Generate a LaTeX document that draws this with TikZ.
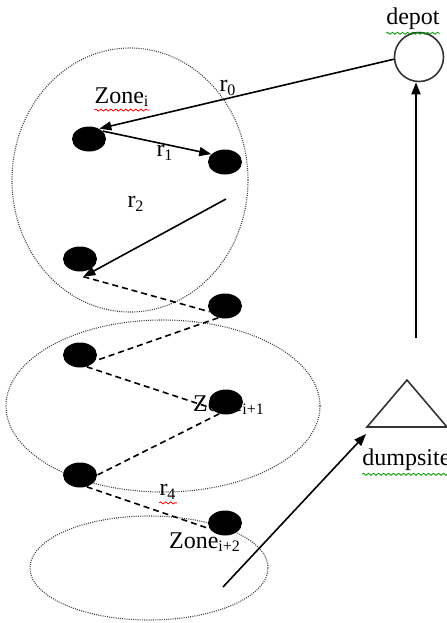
\documentclass[tikz,border=0pt]{standalone}
\usepackage{fontspec}
\setmainfont{Liberation Serif}
\usetikzlibrary{arrows.meta}
\usetikzlibrary{shapes.geometric}
\usetikzlibrary{decorations.pathmorphing}

\begin{document}
\begin{tikzpicture}[x=0.5pt,y=-0.5pt,
    bin/.style={shape=ellipse,fill=black,inner sep=0pt,
      minimum width=17pt,minimum height=12.5pt},
    zoneline/.style={draw=black!75,dash pattern=on 0.5pt off 0.6pt,line width=0.55pt},
    route/.style={-{Triangle[length=6pt,width=4.5pt]},line width=0.8pt},
    hop/.style={dash pattern=on 3pt off 2pt,line width=0.8pt},
    txt/.style={inner sep=0pt,font=\fontsize{12}{14}\selectfont},
    squiggle/.style={decorate,decoration={snake,amplitude=0.5pt,segment length=2.5pt},line width=0.4pt}]
  \useasboundingbox (0,0) rectangle (446,623);
  %\draw[help lines] (0,0) grid[step=50] (446,623); % Only for Development

  % zones
  \draw[zoneline] (130,180) ellipse [x radius=59pt, y radius=66pt];
  \draw[zoneline] (163,406) ellipse [x radius=78.5pt, y radius=43pt];
  \draw[zoneline] (149,568) ellipse [x radius=59.5pt, y radius=26pt];

  % depot and dumpsite
  \node[shape=circle,
    draw=black!80,
    line width=0.8pt,
    minimum size=24.5pt] (depot) at (419,57) {};
  \node[txt] (depottxt) at (413,19) {depot};
  \draw[draw=black!80,line width=0.8pt]
    (367,427) -- (407,380) -- (447,427) -- cycle;
  \coordinate (dumpsite) at (366,434);
  \node[txt,anchor=west] (dumptxt) at (362,460) {dumpsite};

  % labels
  \node[txt] (zonei) at (122,97) {Zone\textsubscript{i}};
  \node[txt] (zoneii) at (229,405) {Zone\textsubscript{i+1}};
  \node[txt] (zoneiii) at (205,542) {Zone\textsubscript{i+2}};
  \node[txt] (rzero) at (228,88) {r\textsubscript{0}};
  \node[txt] (rone) at (165,153) {r\textsubscript{1}};
  \node[txt] (rtwo) at (136,204) {r\textsubscript{2}};
  \node[txt] (rfour) at (168,492) {r\textsubscript{4}};

  % bins
  \node[bin] (b1) at (89,139) {};
  \node[bin] (b2) at (225,162) {};
  \node[bin] (b3) at (80,259) {};
  \node[bin] (b4) at (225,306) {};
  \node[bin] (b5) at (80,355) {};
  \node[bin] (b6) at (226,402) {};
  \node[bin] (b7) at (80,475) {};
  \node[bin] (b8) at (225,523) {};

  % routes
  \draw[route] (depot.185) -- (b1.45);
  \draw[route] (b1.30) -- (b2.150);
  \coordinate (rtwostart) at (226,199);
  \coordinate (rtwoend) at ([yshift=-2.5pt]b3.-75);
  \draw[route] (rtwostart) -- (rtwoend);
  \draw[hop] (rtwoend) -- (b4.200);
  \draw[hop] (b4.240) -- (b5.-20);
  \draw[hop] (b5.-60) -- (b6.200);
  \draw[hop] (b6.240) -- (b7.east);
  \draw[hop] (b7.-60) -- (b8.200);

  \coordinate (upstart) at (416,338);
  \draw[route] (upstart) -- (upstart |- depot.south);
  \coordinate (dumpstart) at (223,587);
  \draw[route] (dumpstart) -- (dumpsite);

  % spell check marks
  \draw[squiggle,red] ([yshift=-1.5pt]zonei.south west) -- ([yshift=-1.5pt]zonei.south east);
  \draw[squiggle,red] ([yshift=-1.5pt]rfour.south west) -- ([yshift=-1.5pt]rfour.south east);
  \draw[squiggle,green!60!black] ([yshift=-1.5pt]depottxt.south west) -- ([yshift=-1.5pt]depottxt.south east);
  \draw[squiggle,green!60!black] ([yshift=-1.5pt]dumptxt.south west) -- ([yshift=-1.5pt]dumptxt.south east);
\end{tikzpicture}
\end{document}
